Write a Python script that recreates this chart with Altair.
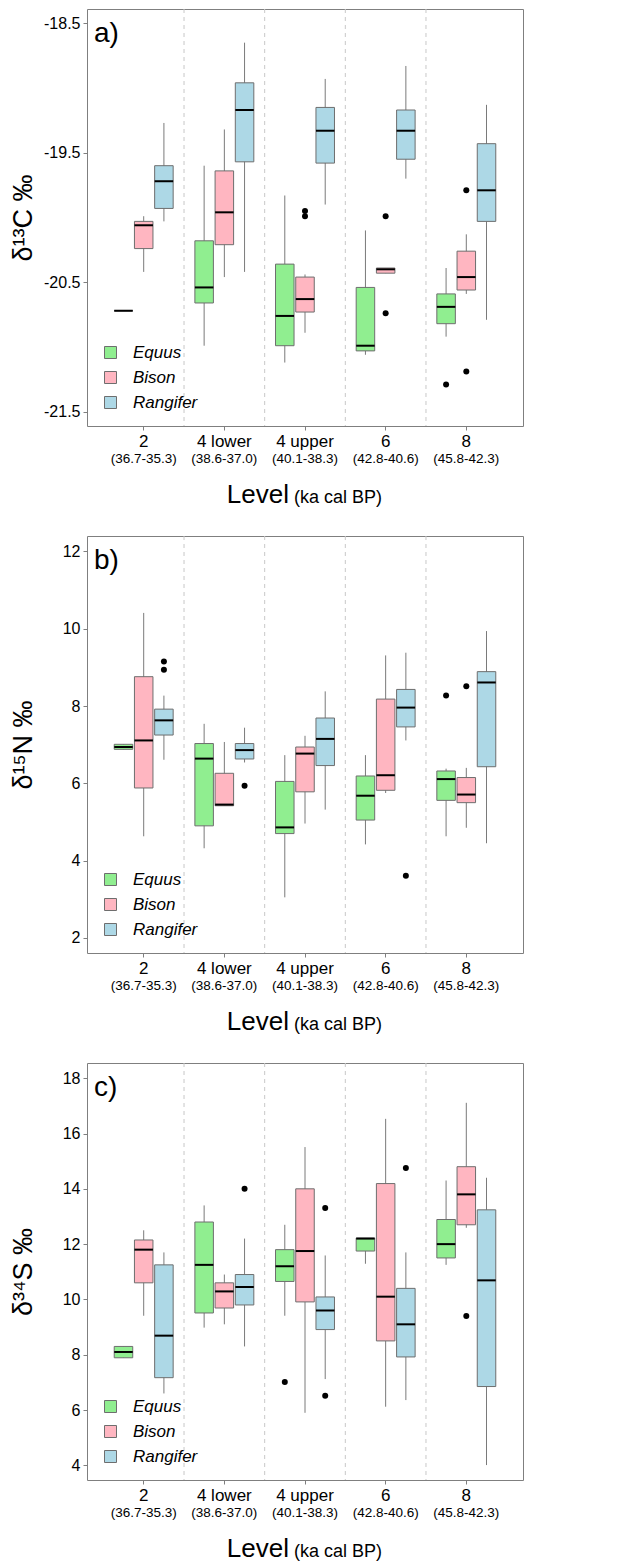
import altair as alt
import pandas as pd

FONT = "Liberation Sans"

LEVELS = ["2", "4 lower", "4 upper", "6", "8"]
RANGES = ["(36.7-35.3)", "(38.6-37.0)", "(40.1-38.3)", "(42.8-40.6)", "(45.8-42.3)"]
SPECIES = ["Equus", "Bison", "Rangifer"]
COLORS = ["#90EE90", "#FFB6C1", "#ADD8E6"]

# Box statistics, ordered level by level, each level: Equus, Bison, Rangifer
C_LO = [-20.72, -20.42, -20.03, -20.99, -20.46, -20.42, -21.12, -20.89, -19.90,
        -21.06, -20.43, -19.70, -20.92, -20.59, -20.79]
C_Q1 = [-20.72, -20.24, -19.93, -20.66, -20.21, -19.57, -20.99, -20.73, -19.58,
        -21.03, -20.43, -19.55, -20.82, -20.56, -20.03]
C_MED = [-20.72, -20.06, -19.72, -20.54, -19.96, -19.17, -20.76, -20.63, -19.33,
         -20.99, -20.40, -19.33, -20.69, -20.46, -19.79]
C_Q3 = [-20.72, -20.03, -19.60, -20.18, -19.64, -18.96, -20.36, -20.46, -19.15,
        -20.54, -20.39, -19.17, -20.59, -20.26, -19.43]
C_HI = [-20.72, -19.99, -19.27, -19.60, -19.32, -18.65, -19.83, -20.44, -18.93,
        -20.10, -20.39, -18.83, -20.39, -20.13, -19.13]
C_OUT_LEVEL = ["4 upper", "4 upper", "6", "6", "8", "8", "8"]
C_OUT_SPECIES = ["Bison", "Bison", "Bison", "Bison", "Equus", "Bison", "Bison"]
C_OUT_VALUE = [-19.95, -19.99, -19.99, -20.74, -21.29, -19.79, -21.19]

N_LO = [6.88, 4.63, 6.61, 4.32, 5.42, 6.54, 3.05, 4.96, 5.32,
        4.42, 5.75, 7.11, 4.63, 4.85, 4.45]
N_Q1 = [6.88, 5.88, 7.25, 4.90, 5.42, 6.63, 4.70, 5.78, 6.46,
        5.05, 5.82, 7.46, 5.56, 5.50, 6.43]
N_MED = [6.94, 7.11, 7.63, 6.64, 5.45, 6.86, 4.86, 6.77, 7.15,
         5.68, 6.21, 7.96, 6.11, 5.71, 8.61]
N_Q3 = [7.01, 8.76, 7.92, 7.03, 6.26, 7.03, 6.05, 6.94, 7.69,
        6.19, 8.18, 8.43, 6.32, 6.15, 8.89]
N_HI = [7.01, 10.41, 8.27, 7.54, 7.07, 7.44, 6.73, 7.23, 8.38,
        6.73, 9.31, 9.38, 6.38, 6.40, 9.94]
N_OUT_LEVEL = ["2", "2", "4 lower", "6", "8", "8"]
N_OUT_SPECIES = ["Rangifer", "Rangifer", "Rangifer", "Rangifer", "Equus", "Bison"]
N_OUT_VALUE = [9.15, 8.94, 5.94, 3.61, 8.27, 8.51]

S_LO = [7.89, 9.41, 6.60, 8.98, 9.10, 8.30, 9.41, 5.90, 7.12,
        11.29, 6.12, 6.36, 11.25, 12.59, 4.01]
S_Q1 = [7.89, 10.60, 7.17, 9.51, 9.69, 9.80, 10.65, 9.91, 8.91,
        11.75, 8.50, 7.92, 11.50, 12.70, 6.85]
S_MED = [8.10, 11.80, 8.69, 11.25, 10.29, 10.45, 11.20, 11.75, 9.60,
         12.20, 10.10, 9.10, 12.00, 13.80, 10.69]
S_Q3 = [8.30, 12.15, 11.25, 12.80, 10.60, 10.90, 11.80, 14.00, 10.09,
        12.22, 14.19, 10.40, 12.89, 14.80, 13.24]
S_HI = [8.30, 12.50, 11.70, 13.40, 10.90, 12.20, 12.70, 15.51, 11.59,
        12.22, 16.53, 11.70, 14.30, 17.11, 14.40]
S_OUT_LEVEL = ["4 lower", "4 upper", "4 upper", "4 upper", "6", "8"]
S_OUT_SPECIES = ["Rangifer", "Equus", "Rangifer", "Rangifer", "Rangifer", "Bison"]
S_OUT_VALUE = [14.0, 7.01, 13.31, 6.52, 14.75, 9.40]

W = 436
H = 417


def panel(lo, q1, med, q3, hi, out_l, out_s, out_v, ydom, yticks, ydigits, ytitle, letter):
    rows = []
    i = 0
    for lev in LEVELS:
        for sp in SPECIES:
            rows.append(dict(level=lev, species=sp, lo=lo[i], q1=q1[i],
                             med=med[i], q3=q3[i], hi=hi[i]))
            i += 1
    df = pd.DataFrame(rows)
    odf = pd.DataFrame({"level": out_l, "species": out_s, "v": out_v})

    xscale = alt.Scale(domain=LEVELS, paddingInner=0, paddingOuter=0.203)
    xaxis = alt.Axis(labelFontSize=17, labelColor="black", labelFont=FONT,
                     tickSize=4, tickColor="#7f7f7f", labelPadding=3,
                     domain=False, grid=False, labelAngle=0, title=None)
    x = alt.X("level:N", scale=xscale, axis=xaxis, title=None)
    xo = alt.XOffset("species:N", scale=alt.Scale(domain=SPECIES, paddingInner=0.084,
                                                  paddingOuter=0.537))
    yscale = alt.Scale(domain=ydom, nice=False, zero=False)
    yaxis = alt.Axis(values=yticks,
                     labelExpr=f"replace(format(datum.value, '.{ydigits}f'), '\u2212', '-')",
                     labelFontSize=16, labelColor="black",
                     labelFont=FONT, tickSize=4, tickColor="#7f7f7f", labelPadding=3,
                     domain=False, grid=False, titleFontSize=27, titleFontWeight="normal",
                     titleFont=FONT, titleColor="black", titlePadding=5,
                     minExtent=45, maxExtent=45)

    base = alt.Chart(df)
    sep = alt.Chart(pd.DataFrame({"level": LEVELS[1:]})).mark_rule(
        color="#c8c8c8", strokeDash=[4, 4], strokeWidth=1
    ).encode(x=alt.X("level:N", scale=xscale, axis=xaxis, bandPosition=0, title=None))
    whisk = base.mark_rule(color="#7a7a7a", strokeWidth=1).encode(
        x=x, xOffset=xo,
        y=alt.Y("lo:Q", scale=yscale, axis=yaxis, title=ytitle), y2="hi:Q")
    box = base.mark_bar(stroke="#6e6e6e", strokeWidth=1, opacity=1).encode(
        x=x, xOffset=xo, y=alt.Y("q1:Q", scale=yscale, axis=yaxis, title=ytitle), y2="q3:Q",
        fill=alt.Fill("species:N", scale=alt.Scale(domain=SPECIES, range=COLORS),
                      legend=alt.Legend(title=None, orient="none", legendX=15, legendY=335,
                                        symbolType="square", symbolSize=144,
                                        symbolStrokeColor="#6e6e6e", symbolStrokeWidth=1,
                                        labelFontSize=17, labelFontStyle="italic",
                                        labelFont=FONT, labelColor="black",
                                        labelOffset=14, rowPadding=7, padding=0)))
    medline = base.mark_tick(color="black", thickness=2, size=18.5, opacity=1).encode(
        x=x, xOffset=xo, y=alt.Y("med:Q", scale=yscale, axis=yaxis, title=ytitle))
    pts = alt.Chart(odf).mark_circle(color="black", size=36, opacity=1).encode(
        x=x, xOffset=xo, y=alt.Y("v:Q", scale=yscale, axis=yaxis, title=ytitle))
    lettert = alt.Chart(pd.DataFrame({"t": [letter]})).mark_text(
        fontSize=28, align="left", baseline="alphabetic", font=FONT, color="black"
    ).encode(x=alt.value(7), y=alt.value(33), text="t:N")
    ranges = alt.Chart(pd.DataFrame({"level": LEVELS, "r": RANGES})).mark_text(
        fontSize=13.5, baseline="alphabetic", font=FONT, color="black"
    ).encode(x=x, y=alt.value(H + 37), text="r:N")
    lvl = alt.Chart(pd.DataFrame({"t": ["Level"]})).mark_text(
        fontSize=26, align="right", baseline="alphabetic", font=FONT, color="black"
    ).encode(x=alt.value(202), y=alt.value(H + 77), text="t:N")
    unit = alt.Chart(pd.DataFrame({"t": ["(ka cal BP)"]})).mark_text(
        fontSize=18, align="left", baseline="alphabetic", font=FONT, color="black"
    ).encode(x=alt.value(207), y=alt.value(H + 77), text="t:N")

    return alt.layer(sep, whisk, box, medline, pts, lettert, ranges, lvl, unit).properties(
        width=W, height=H)


pa = panel(C_LO, C_Q1, C_MED, C_Q3, C_HI, C_OUT_LEVEL, C_OUT_SPECIES, C_OUT_VALUE,
           [-21.61, -18.39], [-18.5, -19.5, -20.5, -21.5], 1, "δ¹³C ‰", "a)")
pb = panel(N_LO, N_Q1, N_MED, N_Q3, N_HI, N_OUT_LEVEL, N_OUT_SPECIES, N_OUT_VALUE,
           [1.61, 12.40], [2, 4, 6, 8, 10, 12], 0, "δ¹⁵N ‰", "b)")
pc = panel(S_LO, S_Q1, S_MED, S_Q3, S_HI, S_OUT_LEVEL, S_OUT_SPECIES, S_OUT_VALUE,
           [3.47, 18.55], [4, 6, 8, 10, 12, 14, 16, 18], 0, "δ³⁴S ‰", "c)")

chart = alt.vconcat(pa, pb, pc, spacing=26).resolve_scale(
    fill="independent").resolve_legend(fill="independent").properties(
    padding={"left": 0, "top": 0, "right": 5, "bottom": 0}
).configure(font=FONT).configure_view(stroke="#7f7f7f", strokeWidth=1)

chart.save("out.html", embed_options={"renderer": "svg", "actions": False})
